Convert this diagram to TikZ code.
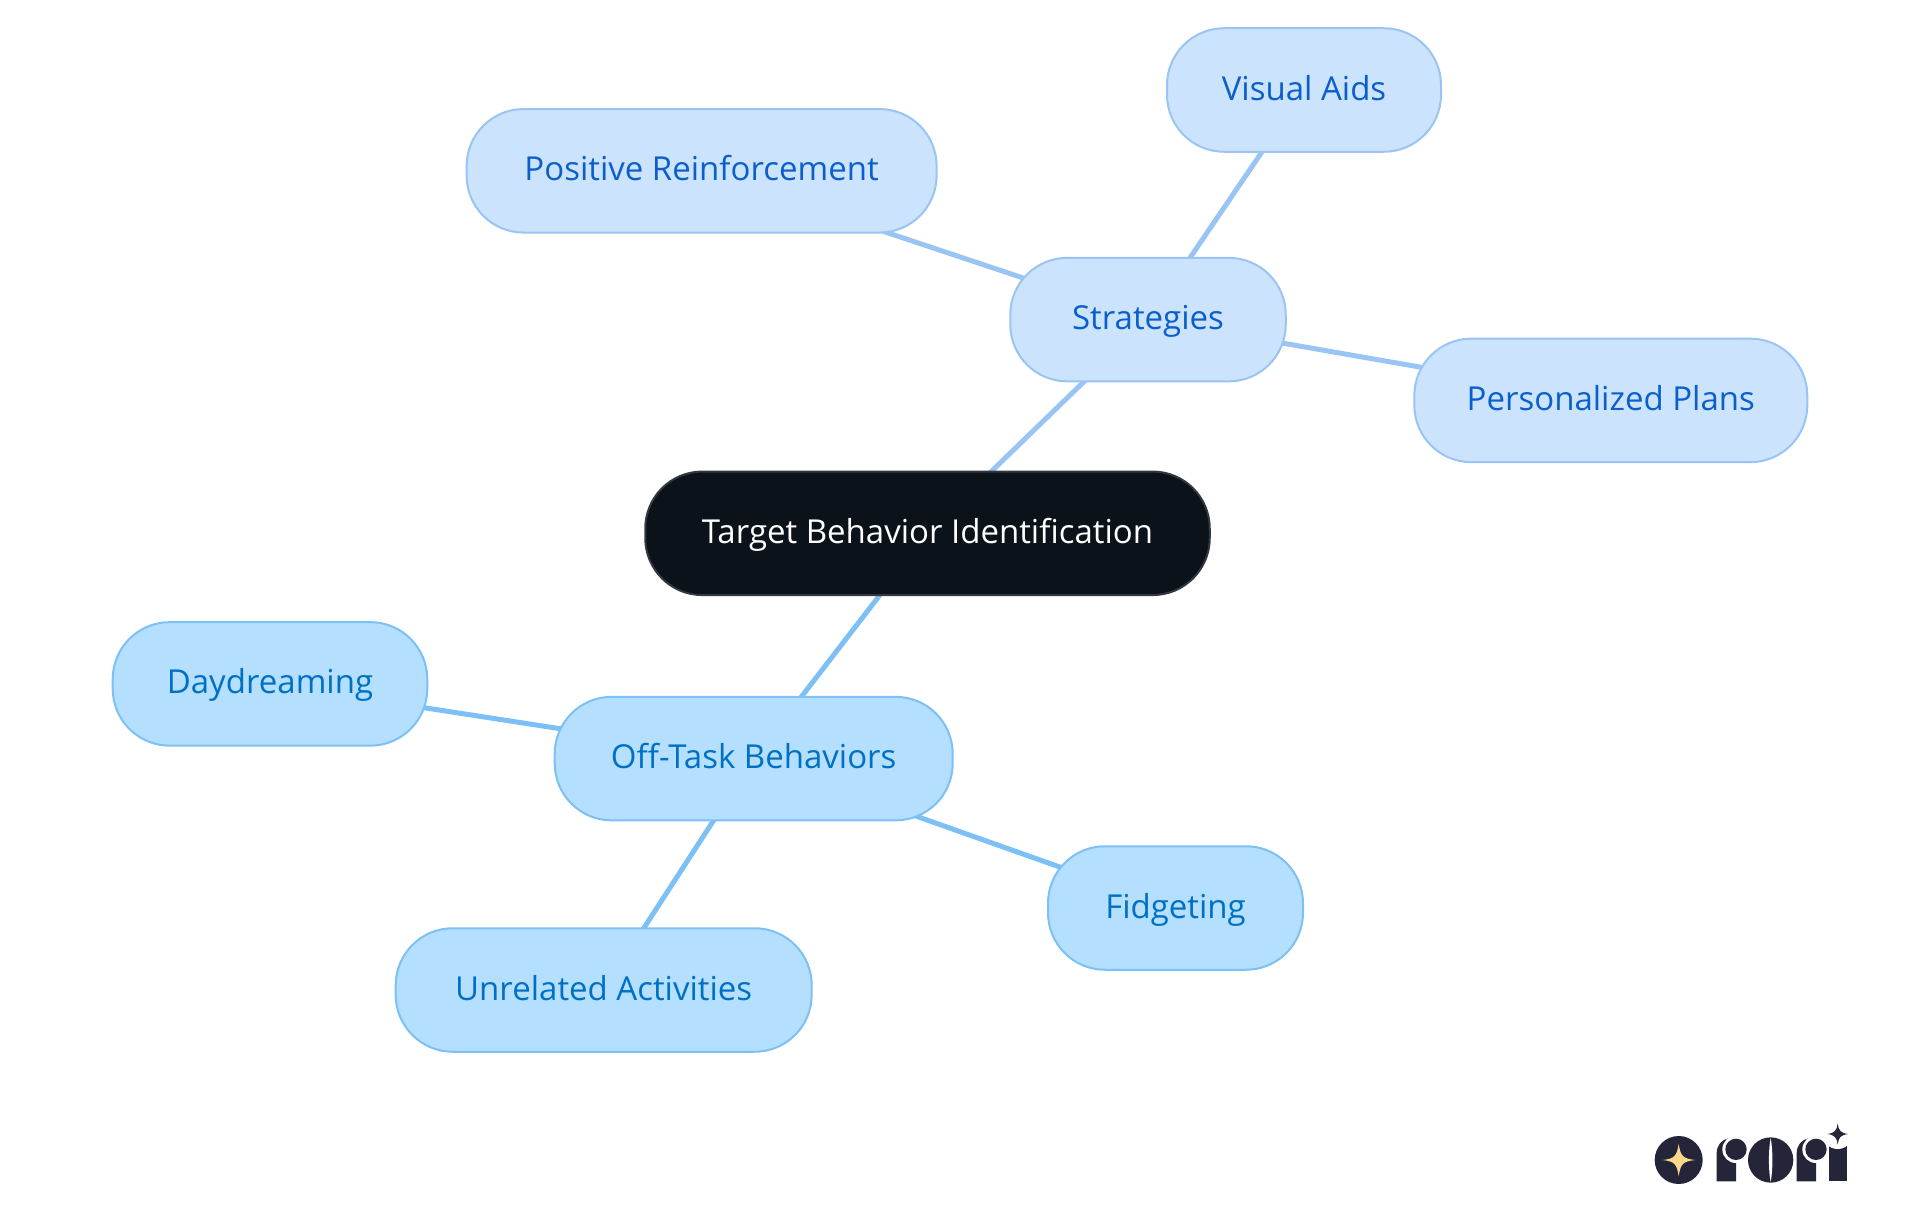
\documentclass[tikz,border=0pt]{standalone}
\usepackage{fontspec}
\setmainfont{Open Sans}
\usetikzlibrary{backgrounds,positioning}
\definecolor{rootfill}{HTML}{0C121A}
\definecolor{rootline}{HTML}{33383E}
\definecolor{sfill}{HTML}{CCE3FD}
\definecolor{sline}{HTML}{99C4F4}
\definecolor{stext}{HTML}{0A5FCC}
\definecolor{ofill}{HTML}{B4DFFF}
\definecolor{oline}{HTML}{7CC0F5}
\definecolor{otext}{HTML}{0070C4}
\definecolor{logodark}{HTML}{25253A}
\definecolor{logogold}{HTML}{FBD98B}
\tikzset{
  x=1pt,y=-1pt,
  mm/.style={rectangle,rounded corners=57pt,line width=2pt,inner sep=0pt,
    minimum height=123.5pt,text height=20pt,text depth=0pt,
    font=\fontsize{33}{38}\selectfont},
  rootbox/.style={mm,fill=rootfill,draw=rootline,text=white},
  sbox/.style={mm,fill=sfill,draw=sline,text=stext},
  obox/.style={mm,fill=ofill,draw=oline,text=otext},
  sedge/.style={draw=sline,line width=5pt},
  oedge/.style={draw=oline,line width=5pt},
}
\begin{document}
\begin{tikzpicture}
\useasboundingbox (0,0) rectangle (1920,1215);
\node[rootbox,minimum width=564.5pt] (root) at (927.5,533.3) {Target Behavior Identification};
\node[sbox,minimum width=275.5pt] (strat) at (1148,319.6) {Strategies};
\node[sbox,minimum width=274pt] (vis) at (1304,90) {Visual Aids};
\node[sbox,minimum width=470pt] (pos) at (701.6,170.8) {Positive Reinforcement};
\node[sbox,minimum width=393pt] (pers) at (1610.8,400.4) {Personalized Plans};
\node[obox,minimum width=398pt] (off) at (753.7,758.6) {Off-Task Behaviors};
\node[obox,minimum width=314.6pt] (day) at (270,683.9) {Daydreaming};
\node[obox,minimum width=255pt] (fid) at (1175.5,908) {Fidgeting};
\node[obox,minimum width=416pt] (unr) at (603.7,990) {Unrelated Activities};
\begin{scope}[on background layer]
\path[sedge] (root.center) -- (strat.center);
\path[sedge] (strat.center) -- (vis.center);
\path[sedge] (strat.center) -- (pos.center);
\path[sedge] (strat.center) -- (pers.center);
\path[oedge] (root.center) -- (off.center);
\path[oedge] (off.center) -- (day.center);
\path[oedge] (off.center) -- (fid.center);
\path[oedge] (off.center) -- (unr.center);
\end{scope}
\begin{scope}[shift={(1640,1110)},x=0.33333pt,y=-0.33333pt]
\fill[logodark] (116,150) circle[radius=72];
\fill[logogold] (116,102) .. controls (122,138) and (128,146) .. (166,150) .. controls (128,154) and (122,162) .. (116,198) .. controls (110,162) and (104,154) .. (68,150) .. controls (104,146) and (110,138) .. (116,102) -- cycle;
\fill[logodark] (230,214) -- (230,130) .. controls (230,105) and (245,88) .. (268,85) -- (300,85) -- (300,150) -- (288,150) -- (288,214) -- cycle;
\fill[white] (288,118) circle[radius=41];
\fill[logodark] (288,118) circle[radius=32];
\fill[logodark] (392,150) circle[radius=68];
\fill[white] (392,84) .. controls (385,120) and (385,180) .. (392,216) .. controls (399,180) and (399,120) .. (392,84) -- cycle;
\fill[logodark] (470,214) -- (470,130) .. controls (470,105) and (485,88) .. (508,85) -- (540,85) -- (540,150) -- (528,150) -- (528,214) -- cycle;
\fill[white] (528,118) circle[radius=41];
\fill[logodark] (528,118) circle[radius=32];
\fill[logodark] (566,214) rectangle (620,104);
\fill[white] (593,72) circle[radius=45];
\fill[logodark] (593,41) .. controls (596,62) and (602,69) .. (624,72) .. controls (602,75) and (596,82) .. (593,103) .. controls (590,82) and (584,75) .. (562,72) .. controls (584,69) and (590,62) .. (593,41) -- cycle;
\end{scope}
\end{tikzpicture}
\end{document}
